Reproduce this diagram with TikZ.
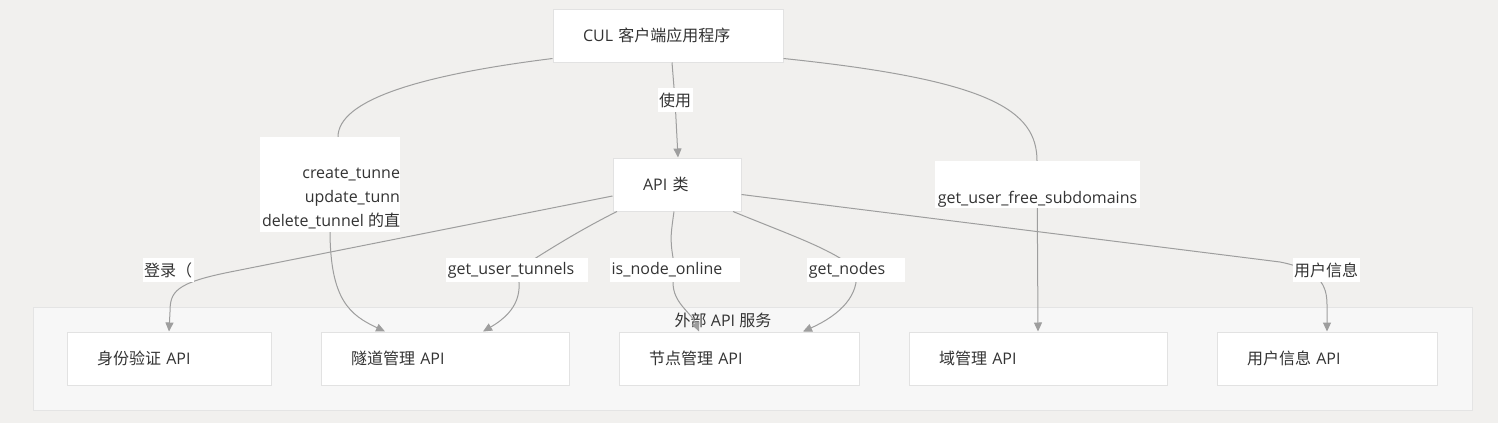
\documentclass[tikz,border=0pt]{standalone}
\usepackage{fontspec}
\setmainfont{Open Sans}
\newfontfamily\cjk{Noto Sans CJK SC}
\usetikzlibrary{arrows.meta}

\definecolor{canvas}{RGB}{241,240,238}
\definecolor{groupfill}{RGB}{247,247,247}
\definecolor{groupline}{RGB}{228,228,228}
\definecolor{boxline}{RGB}{226,226,226}
\definecolor{linkcol}{RGB}{158,158,158}
\definecolor{ink}{RGB}{51,51,51}

\begin{document}
\begin{tikzpicture}[x=1pt,y=-1pt,font=\fontsize{16}{19}\selectfont,
  every node/.style={text=ink},
  box/.style={draw=boxline,line width=1pt,fill=white,minimum height=53pt,inner xsep=30pt,inner ysep=0pt,align=left},
  lbl/.style={fill=white,inner xsep=1.5pt,inner ysep=0pt,minimum height=24pt},
  link/.style={draw=linkcol,line width=1pt},
  tip/.style={-{Triangle[width=8pt,length=9pt]}}]
% canvas and group
\fill[canvas] (0,0) rectangle (1498,423);
\useasboundingbox (0,0) rectangle (1498,423);
\draw[groupline,fill=groupfill,line width=1pt] (33,307) rectangle (1472,410);
\node (grouptitle) at (723,320) {{\cjk 外部} API {\cjk 服务}};
% nodes
\node[box,text width=170pt] (cul) at (668,35.5) {CUL {\cjk 客户端应用程序}};
\node[box,text width=68pt] (api) at (677,184.5) {API {\cjk 类}};
\node[box,text width=144pt] (auth) at (169,358.5) {{\cjk 身份验证} API};
\node[box,text width=188pt] (tun) at (445,358.5) {{\cjk 隧道管理} API};
\node[box,text width=180pt] (nod) at (739,358.5) {{\cjk 节点管理} API};
\node[box,text width=198pt] (dom) at (1038,358.5) {{\cjk 域管理} API};
\node[box,text width=160pt] (usr) at (1327,358.5) {{\cjk 用户信息} API};
% label points
\coordinate (useC) at (675,100);
\coordinate (loginC) at (168,270);
\coordinate (tunnelsC) at (517,270);
\coordinate (onlineC) at (675,270);
\coordinate (nodesC) at (856,270);
\coordinate (infoC) at (1326,270);
% links
\draw[link,tip] ([xshift=4pt]cul.south) -- (useC) -- ([xshift=1pt]api.north);
\draw[link,tip] ([yshift=4pt]cul.south west) .. controls (420,75) and (338,100) .. (338,137)
  -- (330,230) .. controls (330,300) and (350,315) .. ([xshift=-60pt]tun.north);
\draw[link,tip] ([yshift=4pt]cul.south east) .. controls (990,80) and (1037,110) .. (1037,161)
  -- (dom.north);
\draw[link,tip] ([yshift=-11.5pt]api.west) -- (230,272) .. controls (175,283) and (170,292) .. (170,312)
  -- (auth.north);
\draw[link,tip] ([xshift=-60pt]api.south) .. controls (580,230) and (548,250) .. (tunnelsC)
  .. controls (522,290) and (520,310) .. ([xshift=38pt]tun.north);
\draw[link,tip] ([xshift=-3pt]api.south) .. controls (670,240) .. (onlineC)
  .. controls (666,300) and (690,310) .. ([xshift=-40pt]nod.north);
\draw[link,tip] ([xshift=56pt]api.south) .. controls (790,235) and (835,250) .. (nodesC)
  .. controls (860,295) and (840,315) .. ([xshift=64pt]nod.north);
\draw[link,tip] ([yshift=-10pt]api.east) -- (1280,262) .. controls (1320,270) and (1327,285) .. (1327,305)
  -- (usr.north);
% labels
\node[lbl] (use) at (useC) {\cjk 使用};
\node[fill=white,minimum width=140pt,minimum height=95pt] (create) at (330,184.5) {};
\node[anchor=south east,align=right,inner sep=0pt,font=\fontsize{16}{24}\selectfont]
  (createtxt) at ([yshift=3pt]create.south east) {create\_tunne\\update\_tunn\\delete\_tunnel {\cjk 的直}};
\node[fill=white,minimum width=205pt,minimum height=47pt,inner sep=0pt,text height=42pt,text depth=5pt]
  (free) at (1037.5,184.5) {get\_user\_free\_subdomains};
\node[lbl] (login) at (loginC) {\cjk 登录（};
\node[lbl] (tunnels) at (tunnelsC) {get\_user\_tunnels\hspace*{12pt}};
\node[lbl] (online) at (onlineC) {is\_node\_online\hspace*{16pt}};
\node[lbl] (nodes) at (nodesC) {get\_nodes\hspace*{18pt}};
\node[lbl] (info) at (infoC) {\cjk 用户信息};
\end{tikzpicture}
\end{document}
